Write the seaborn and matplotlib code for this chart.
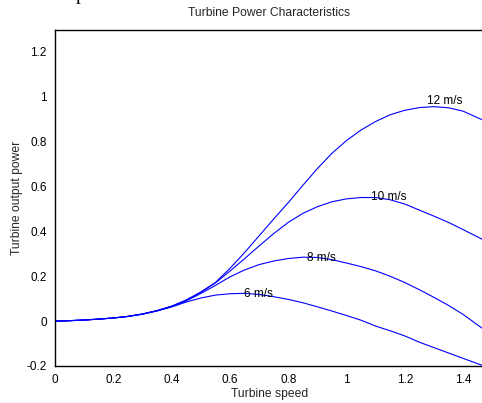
import numpy as np
import pandas as pd
import matplotlib
matplotlib.use("Agg")
import matplotlib.pyplot as plt
import seaborn as sns

# ---- data ----
speed = [0.0, 0.05, 0.1, 0.15, 0.2, 0.25, 0.3, 0.35, 0.4, 0.45, 0.5, 0.55, 0.6,
         0.65, 0.7, 0.75, 0.8, 0.85, 0.9, 0.95, 1.0, 1.05, 1.1, 1.15, 1.2, 1.25,
         1.3, 1.35, 1.4, 1.47]

p6 = [0.0, 0.002, 0.005, 0.009, 0.014, 0.021, 0.031, 0.045, 0.063, 0.085, 0.103,
      0.116, 0.122, 0.124, 0.119, 0.109, 0.097, 0.082, 0.064, 0.045, 0.025, 0.004,
      -0.022, -0.043, -0.066, -0.094, -0.118, -0.142, -0.166, -0.199]
p8 = [0.0, 0.002, 0.005, 0.009, 0.014, 0.021, 0.031, 0.046, 0.065, 0.090, 0.123,
      0.159, 0.197, 0.228, 0.252, 0.268, 0.279, 0.285, 0.284, 0.274, 0.259, 0.243,
      0.224, 0.200, 0.172, 0.140, 0.106, 0.070, 0.030, -0.036]
p10 = [0.0, 0.002, 0.005, 0.009, 0.014, 0.021, 0.032, 0.047, 0.066, 0.093, 0.128,
       0.170, 0.223, 0.278, 0.335, 0.390, 0.440, 0.480, 0.510, 0.532, 0.545, 0.551,
       0.551, 0.541, 0.522, 0.495, 0.468, 0.440, 0.408, 0.362]
p12 = [0.0, 0.002, 0.005, 0.009, 0.014, 0.021, 0.032, 0.047, 0.067, 0.094, 0.130,
       0.172, 0.235, 0.305, 0.380, 0.455, 0.528, 0.605, 0.680, 0.748, 0.805, 0.852,
       0.890, 0.920, 0.940, 0.952, 0.956, 0.951, 0.936, 0.895]

wind_labels = ["6 m/s", "8 m/s", "10 m/s", "12 m/s"]
label_x = [0.698, 0.914, 1.146, 1.338]
label_y = [0.119, 0.283, 0.553, 0.981]

xticks = [0, 0.2, 0.4, 0.6, 0.8, 1.0, 1.2, 1.4]
xtick_labels = ["0", "0.2", "0.4", "0.6", "0.8", "1", "1.2", "1.4"]
yticks = [-0.2, 0, 0.2, 0.4, 0.6, 0.8, 1.0, 1.2]
ytick_labels = ["-0.2", "0", "0.2", "0.4", "0.6", "0.8", "1", "1.2"]

df = pd.concat([
    pd.DataFrame({"speed": speed, "power": vals, "wind": lab})
    for vals, lab in zip([p6, p8, p10, p12], wind_labels)
], ignore_index=True)

# ---- figure ----
sns.set_style("white")
plt.rcParams["font.family"] = ["Liberation Sans", "DejaVu Sans"]

W, H = 482, 403
fig = plt.figure(figsize=(W / 100, H / 100), dpi=100)
ax = fig.add_axes([55 / W, 37 / H, 428.5 / W, 336.5 / H])

sns.lineplot(data=df, x="speed", y="power", hue="wind",
             palette=["#0000ff"] * 4, legend=False, linewidth=0.8,
             sort=False, ax=ax)

for lab, lx, ly in zip(wind_labels, label_x, label_y):
    ax.text(lx, ly, lab, ha="center", va="center", fontsize=8.5, color="black")

ax.set_xlim(0, 1.47)
ax.set_ylim(-0.2, 1.3)
ax.set_xticks(xticks)
ax.set_xticklabels(xtick_labels)
ax.set_yticks(yticks)
ax.set_yticklabels(ytick_labels)
ax.tick_params(axis="both", length=0, labelsize=8.5, pad=6, colors="black")

for s in ["left", "bottom", "top", "right"]:
    ax.spines[s].set_color("black")
    ax.spines[s].set_linewidth(1.0)

ax.set_title("Turbine Power Characteristics", fontsize=8.7, pad=9.5)
ax.set_xlabel("Turbine speed", fontsize=8.7, labelpad=1)
ax.set_ylabel("Turbine output power", fontsize=8.7, labelpad=2.5)

# cropped fragment of surrounding text at the top edge
fig.text(80 / W, 1.0, "p", family="Liberation Serif", fontsize=14,
         ha="center", va="baseline", color="black")

fig.savefig("out.png", dpi=100)
